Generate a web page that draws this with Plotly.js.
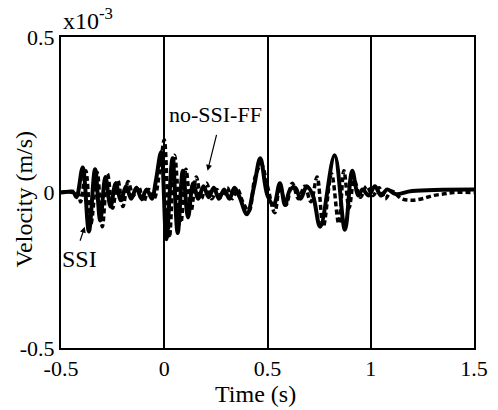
<!DOCTYPE html>
<html>
<head>
<meta charset="utf-8">
<script src="https://cdn.plot.ly/plotly-3.0.1.min.js"></script>
<style>
html,body{margin:0;padding:0;background:#fff;}
#chart{width:498px;height:410px;}
</style>
</head>
<body>
<div id="chart"></div>
<script>
// Velocity (x10^-3 m/s) vs time (s)
const ssiTime = [-0.5,-0.44,-0.425,-0.395,-0.365,-0.335,-0.31,-0.285,-0.26,-0.235,-0.21,-0.185,-0.16,-0.135,-0.11,-0.085,-0.06,-0.04,-0.015,0.01,0.04,0.065,0.09,0.115,0.14,0.165,0.19,0.215,0.24,0.265,0.29,0.315,0.34,0.365,0.4,0.435,0.465,0.5,0.53,0.56,0.585,0.61,0.635,0.66,0.69,0.72,0.755,0.825,0.875,0.91,0.94,0.96,0.99,1.02,1.05,1.08,1.12,1.2,1.5];
const ssiVel  = [0,0,-0.015,0.08,-0.125,0.075,-0.09,0.05,-0.045,0.03,-0.025,0.02,-0.02,0.015,-0.02,0.01,-0.02,0.04,0.13,-0.15,0.11,-0.13,0.07,-0.08,0.03,-0.02,0.02,-0.015,0.015,-0.02,0.01,-0.02,0.015,-0.015,-0.07,0.02,0.11,-0.01,-0.04,0.03,-0.04,0.01,0.015,-0.02,0.02,-0.01,-0.11,0.12,-0.12,0.07,-0.01,0.01,-0.01,0.02,-0.01,0.01,-0.005,0.005,0.01];

const ffTime = [-0.5,-0.42,-0.405,-0.38,-0.355,-0.325,-0.3,-0.275,-0.25,-0.225,-0.2,-0.175,-0.15,-0.125,-0.1,-0.075,-0.05,-0.02,0.0,0.025,0.05,0.08,0.105,0.13,0.155,0.18,0.205,0.23,0.255,0.28,0.305,0.33,0.355,0.38,0.41,0.44,0.47,0.5,0.535,0.56,0.59,0.62,0.65,0.68,0.71,0.74,0.77,0.81,0.845,0.87,0.895,0.92,0.95,0.98,1.01,1.04,1.07,1.1,1.15,1.2,1.25,1.3,1.35,1.4,1.5];
const ffVel  = [0,0,-0.03,0.07,-0.1,0.065,-0.11,0.06,-0.05,0.04,-0.045,0.035,-0.01,0.02,-0.03,0.01,-0.02,0.08,0.17,-0.145,0.12,-0.1,0.075,-0.06,0.05,-0.02,0.03,-0.02,0.01,-0.015,0.015,-0.02,0.01,-0.03,-0.06,0.05,0.09,0.02,-0.065,0.02,-0.04,0.03,-0.02,0.02,-0.03,0.05,-0.11,0.06,-0.1,0.07,-0.05,0.04,-0.015,0.02,-0.01,0.015,-0.02,0.005,-0.02,-0.025,-0.02,-0.01,-0.005,0,0];

const xTicks = [-0.5,0,0.5,1,1.5];
const xTickText = ['-0.5','0','0.5','1','1.5'];
const yTicks = [-0.5,0,0.5];
const yTickText = ['-0.5','0','0.5'];

const font = {family:"Liberation Serif, Times New Roman, serif", size:24, color:'#000'};
const tickFont = {family:"Liberation Serif, Times New Roman, serif", size:22, color:'#000'};
const labelFont = {family:"Liberation Serif, Times New Roman, serif", size:22, color:'#000'};

const traces = [
  {x: ssiTime, y: ssiVel, mode:'lines', name:'SSI',
   line:{color:'#000', width:4, shape:'spline', smoothing:1}},
  {x: ffTime, y: ffVel, mode:'lines', name:'no-SSI-FF',
   line:{color:'#000', width:3.5, dash:'5px,3px', shape:'spline', smoothing:1}}
];

const layout = {
  width:498, height:410,
  margin:{l:61, r:24, t:37, b:62},
  paper_bgcolor:'#fff', plot_bgcolor:'#fff',
  showlegend:false,
  font:font,
  xaxis:{
    range:[-0.5,1.5], tickvals:xTicks, ticktext:xTickText,
    showgrid:true, gridcolor:'#000', gridwidth:2,
    showline:true, linecolor:'#000', linewidth:2, mirror:true,
    zeroline:false, ticks:'', ticklabelstandoff:0,
    tickfont:tickFont
  },
  yaxis:{
    range:[-0.5,0.5], tickvals:yTicks, ticktext:yTickText,
    showgrid:false,
    showline:true, linecolor:'#000', linewidth:2, mirror:true,
    zeroline:false, ticks:'', ticklabelstandoff:0,
    tickfont:tickFont
  },
  annotations:[
    {xref:'paper', yref:'paper', x:0.47, y:-0.148, xanchor:'center', yanchor:'middle',
     text:'Time (s)', showarrow:false, font:font},
    {xref:'paper', yref:'paper', x:-0.09, y:0.48, xanchor:'center', yanchor:'middle', textangle:-90,
     text:'Velocity (m/s)', showarrow:false, font:font},
    {xref:'paper', yref:'paper', x:0, y:1, xanchor:'left', yanchor:'bottom', yshift:1,
     text:'x10<sup>-3</sup>', showarrow:false, font:font},
    {x:0.25, y:0.25, text:'no-SSI-FF', showarrow:false, font:labelFont},
    {x:0.21, y:0.07, ax:0.255, ay:0.19, axref:'x', ayref:'y', text:'', showarrow:true,
     arrowhead:2, arrowsize:1, arrowwidth:1.2, arrowcolor:'#000'},
    {x:-0.41, y:-0.215, text:'SSI', showarrow:false, font:font},
    {x:-0.385, y:-0.11, ax:-0.41, ay:-0.16, axref:'x', ayref:'y', text:'', showarrow:true,
     arrowhead:2, arrowsize:1, arrowwidth:1.2, arrowcolor:'#000'}
  ]
};

Plotly.newPlot('chart', traces, layout, {displayModeBar:false, staticPlot:true});
</script>
</body>
</html>
